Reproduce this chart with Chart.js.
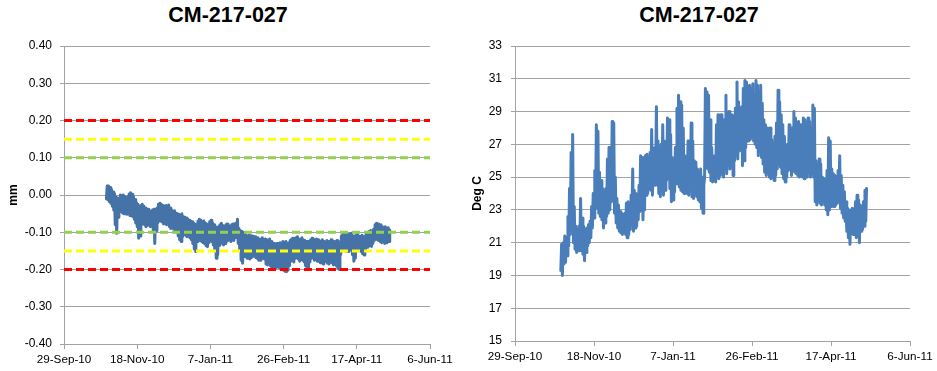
<!DOCTYPE html>
<html>
<head>
<meta charset="utf-8">
<script src="https://cdn.jsdelivr.net/npm/chart.js@4.4.0/dist/chart.umd.min.js"></script>
<style>
  html, body { margin: 0; padding: 0; background: #fff; }
  body { width: 937px; height: 371px; position: relative; overflow: hidden; }
  .title { position: absolute; top: 3px; height: 25px; line-height: 25px; text-align: center;
           font: bold 21.5px "Liberation Sans", Arial, sans-serif; color: #000; }
  .panel { position: absolute; top: 0; height: 371px; }
</style>
</head>
<body>
<div class="title" style="left:0;width:456px">CM-217-027</div>
<div class="title" style="left:467px;width:464px">CM-217-027</div>
<div class="panel" style="left:0;width:460px"><canvas id="disp" width="460" height="371"></canvas></div>
<div class="panel" style="left:467px;width:470px"><canvas id="temp" width="470" height="371"></canvas></div>

<script>
// Day 0 = 29-Sep-10; one tick every 50 days
const tickDays = [0, 50, 100, 150, 200, 250];
const xTickLabels = ['29-Sep-10', '18-Nov-10', '7-Jan-11', '26-Feb-11', '17-Apr-11', '6-Jun-11'];

// Readings start on day 29 (28-Oct-10), one daily high and low per day
const firstDay = 29;

// Crack meter displacement (mm): daily high / low
const dispHigh = [
  0.024, 0.024, 0.020, 0.015, 0.008, 0.004, -0.005, -0.008, -0.010, 0.000,
  -0.002, 0.000, -0.004, -0.008, -0.005, 0.003, 0.006, 0.002, -0.005, -0.012,
  -0.020, -0.025, -0.030, -0.028, -0.025, -0.030, -0.035, -0.040, -0.038, -0.042,
  -0.045, -0.040, -0.038, -0.045, -0.035, -0.025, -0.022, -0.025, -0.028, -0.030,
  -0.028, -0.030, -0.027, -0.035, -0.040, -0.045, -0.042, -0.048, -0.050, -0.052,
  -0.055, -0.050, -0.058, -0.060, -0.062, -0.065, -0.068, -0.070, -0.072, -0.075,
  -0.080, -0.078, -0.070, -0.065, -0.068, -0.072, -0.070, -0.075, -0.078, -0.080,
  -0.072, -0.068, -0.075, -0.080, -0.085, -0.088, -0.085, -0.080, -0.076, -0.082,
  -0.085, -0.080, -0.078, -0.082, -0.085, -0.080, -0.078, -0.085, -0.075, -0.065,
  -0.090, -0.095, -0.098, -0.100, -0.105, -0.108, -0.110, -0.108, -0.112, -0.110,
  -0.115, -0.112, -0.118, -0.115, -0.120, -0.118, -0.115, -0.120, -0.118, -0.120,
  -0.122, -0.118, -0.125, -0.128, -0.130, -0.134, -0.130, -0.130, -0.128, -0.130,
  -0.125, -0.128, -0.125, -0.130, -0.128, -0.122, -0.118, -0.116, -0.120, -0.115,
  -0.112, -0.118, -0.120, -0.115, -0.120, -0.122, -0.125, -0.124, -0.125, -0.120,
  -0.116, -0.118, -0.122, -0.118, -0.120, -0.122, -0.125, -0.120, -0.124, -0.128,
  -0.122, -0.125, -0.126, -0.120, -0.122, -0.125, -0.128, -0.122, -0.125, -0.128,
  -0.110, -0.105, -0.103, -0.106, -0.104, -0.107, -0.105, -0.103, -0.110, -0.112,
  -0.108, -0.105, -0.110, -0.112, -0.108, -0.114, -0.110, -0.105, -0.100, -0.098,
  -0.095, -0.100, -0.092, -0.080, -0.076, -0.078, -0.082, -0.080, -0.085, -0.088,
  -0.085, -0.090, -0.088, -0.094
];
const dispLow = [
  -0.010, -0.013, -0.018, -0.022, -0.030, -0.040, -0.080, -0.103, -0.060, -0.040,
  -0.045, -0.048, -0.050, -0.048, -0.052, -0.050, -0.055, -0.056, -0.058, -0.065,
  -0.075, -0.085, -0.116, -0.110, -0.080, -0.075, -0.080, -0.085, -0.082, -0.080,
  -0.085, -0.082, -0.100, -0.130, -0.095, -0.075, -0.070, -0.068, -0.072, -0.078,
  -0.075, -0.080, -0.078, -0.085, -0.090, -0.088, -0.092, -0.094, -0.100, -0.110,
  -0.120, -0.125, -0.112, -0.105, -0.108, -0.112, -0.110, -0.115, -0.120, -0.130,
  -0.145, -0.152, -0.125, -0.118, -0.122, -0.125, -0.128, -0.130, -0.136, -0.139,
  -0.128, -0.120, -0.125, -0.134, -0.150, -0.170, -0.160, -0.135, -0.130, -0.128,
  -0.134, -0.130, -0.125, -0.122, -0.120, -0.125, -0.118, -0.122, -0.115, -0.110,
  -0.130, -0.145, -0.175, -0.183, -0.165, -0.160, -0.170, -0.165, -0.172, -0.168,
  -0.165, -0.160, -0.168, -0.170, -0.175, -0.175, -0.165, -0.170, -0.172, -0.185,
  -0.188, -0.180, -0.190, -0.195, -0.198, -0.200, -0.195, -0.192, -0.195, -0.198,
  -0.200, -0.202, -0.205, -0.206, -0.202, -0.190, -0.178, -0.175, -0.180, -0.170,
  -0.165, -0.172, -0.178, -0.168, -0.175, -0.180, -0.190, -0.195, -0.200, -0.180,
  -0.170, -0.168, -0.175, -0.172, -0.178, -0.178, -0.182, -0.175, -0.185, -0.180,
  -0.176, -0.183, -0.185, -0.178, -0.182, -0.188, -0.185, -0.190, -0.195, -0.200,
  -0.160, -0.148, -0.142, -0.150, -0.145, -0.152, -0.148, -0.140, -0.160, -0.178,
  -0.170, -0.150, -0.145, -0.148, -0.152, -0.158, -0.161, -0.145, -0.140, -0.138,
  -0.135, -0.138, -0.130, -0.122, -0.118, -0.120, -0.122, -0.125, -0.128, -0.125,
  -0.130, -0.128, -0.126, -0.125
];

// Alarm thresholds (mm), drawn as +/- pairs
const redLimits = [0.20, -0.20];
const yellowLimits = [0.15, -0.15];
const greenLimits = [0.10, -0.10];

// Temperature (Deg C): daily high / low
const tempHigh = [
  20.9, 21.0, 21.4, 21.3, 22.6, 24.3, 26.5, 27.6, 23.2, 22.0,
  21.8, 22.0, 23.7, 22.5, 22.0, 21.8, 21.9, 22.1, 22.3, 23.2,
  24.0, 25.4, 28.2, 27.8, 25.3, 24.8, 24.3, 24.1, 24.3, 26.1,
  26.8, 25.5, 28.4, 28.3, 25.0, 23.7, 23.3, 22.9, 22.8, 22.7,
  22.8, 23.4, 23.5, 23.1, 23.9, 25.5, 24.2, 24.0, 23.6, 24.5,
  26.3, 26.2, 25.8, 26.3, 26.4, 26.1, 26.5, 27.9, 26.3, 26.8,
  29.3, 27.2, 26.4, 27.0, 28.2, 27.2, 26.5, 28.6, 28.5, 27.6,
  26.2, 25.5, 26.8, 29.2, 30.0, 29.6, 29.4, 28.0, 26.3, 25.8,
  27.2, 26.5, 28.3, 27.2, 26.0, 25.9, 25.5, 25.3, 25.5, 25.0,
  24.5, 30.4, 30.2, 30.0, 28.5, 26.8, 26.3, 26.0, 28.2, 28.8,
  28.3, 28.8, 27.8, 28.5, 30.0, 28.7, 29.0, 28.6, 28.8, 28.0,
  29.2, 30.8, 29.6, 28.9, 29.3, 30.4, 30.9, 30.8, 30.5, 30.6,
  30.4, 30.7, 29.8, 30.9, 30.6, 30.2, 30.6, 29.5, 28.5, 28.2,
  28.0, 27.8, 28.0, 27.3, 27.0, 27.5, 28.3, 30.3, 29.6, 28.8,
  28.2, 27.5, 26.8, 27.0, 28.2, 27.5, 28.0, 29.0, 28.6, 28.3,
  28.4, 28.2, 28.0, 28.6, 28.5, 28.3, 28.6, 28.4, 28.0, 29.4,
  29.2, 26.0, 25.3, 26.1, 25.8, 25.0, 24.9, 24.8, 25.4, 27.4,
  27.2, 25.5, 25.2, 25.1, 25.0, 25.4, 26.3, 25.1, 24.5, 24.1,
  23.5, 23.1, 23.0, 22.9, 23.1, 22.9, 23.5, 23.9, 23.6, 23.3,
  23.1, 23.5, 24.2, 24.3
];
const tempLow = [
  19.3, 19.0, 19.7, 19.8, 20.2, 20.8, 21.5, 22.2, 21.0, 20.6,
  20.4, 20.5, 20.7, 20.5, 20.3, 19.9, 20.4, 20.8, 21.0, 21.3,
  21.9, 22.5, 23.2, 23.1, 22.8, 22.6, 22.4, 21.9, 22.2, 22.6,
  22.8, 23.0, 23.5, 23.6, 22.8, 22.2, 21.9, 21.7, 21.6, 21.5,
  21.7, 21.5, 21.3, 21.5, 21.8, 22.4, 21.7, 21.9, 22.0, 22.4,
  22.9, 23.2, 22.4, 23.0, 23.9, 24.0, 24.3, 24.2, 23.9, 24.5,
  24.8, 24.5, 24.0, 23.8, 24.2, 23.9, 24.2, 24.8, 24.9, 24.3,
  23.5, 23.6, 24.1, 24.6, 24.7, 24.4, 24.2, 24.1, 24.0, 24.2,
  24.0, 23.9, 24.4, 23.8, 23.7, 24.0, 23.8, 23.6, 23.5, 23.1,
  22.8, 25.0, 25.7, 25.5, 25.3, 24.8, 24.7, 24.8, 24.7, 25.0,
  24.9, 25.1, 25.3, 25.0, 25.6, 25.2, 25.8, 25.5, 25.7, 25.1,
  26.0, 26.4, 26.1, 26.6, 26.8, 25.7, 26.0, 26.8, 27.2, 27.2,
  27.3, 27.5, 27.2, 27.0, 26.8, 26.3, 26.6, 26.2, 25.8, 25.3,
  25.1, 25.3, 25.0, 24.9, 25.0, 24.8, 25.1, 25.5, 25.8, 25.6,
  25.2, 24.9, 24.7, 25.0, 25.4, 25.5, 25.1, 25.4, 25.3, 25.2,
  25.1, 25.0, 25.1, 25.0, 24.9, 25.2, 25.0, 25.3, 25.0, 25.2,
  25.0, 23.5, 23.3, 23.6, 23.4, 23.3, 23.6, 23.3, 23.0, 22.7,
  23.0, 23.2, 23.3, 23.2, 23.3, 23.4, 23.5, 23.1, 22.8, 22.5,
  22.3, 21.7, 21.3, 20.9, 21.6, 21.5, 21.6, 21.3, 21.4, 21.0,
  21.7, 21.8, 22.0, 22.3
];

// Each day: low reading at midnight, high reading at noon
function dailySwing(highs, lows) {
  const pts = [];
  highs.forEach((h, i) => {
    pts.push({ x: firstDay + i, y: lows[i] });
    pts.push({ x: firstDay + i + 0.5, y: h });
  });
  return pts;
}

function limitLine(level, color) {
  return {
    data: [{ x: tickDays[0], y: level }, { x: tickDays[tickDays.length - 1], y: level }],
    borderColor: color, borderWidth: 3, borderDash: [8, 4], borderCapStyle: 'butt',
    pointRadius: 0, order: 0
  };
}

const FONT = '"Liberation Sans", Arial, sans-serif';
const GRID = '#a3a3a3';

function xAxis(height) {
  return {
    type: 'linear', min: tickDays[0], max: tickDays[tickDays.length - 1],
    afterFit: s => { s.height = height; },
    afterBuildTicks: s => { s.ticks = tickDays.map(v => ({ value: v })); },
    ticks: {
      callback: (v, i) => xTickLabels[i], autoSkip: false, maxRotation: 0,
      color: '#000', padding: 4, font: { family: FONT, size: 11.7 }
    },
    grid: { drawOnChartArea: false, drawTicks: true, tickLength: 5, color: GRID },
    border: { display: true, color: GRID }
  };
}

function baseOptions(padRight, scales) {
  return {
    responsive: false, animation: false, devicePixelRatio: 1,
    layout: { padding: { top: 46, right: padRight, bottom: 0, left: 0 } },
    plugins: { legend: { display: false }, tooltip: { enabled: false }, title: { display: false } },
    scales
  };
}

// Displacement panel
new Chart(document.getElementById('disp'), {
  type: 'line',
  data: {
    datasets: [
      limitLine(greenLimits[0], '#92d050'), limitLine(greenLimits[1], '#92d050'),
      limitLine(yellowLimits[0], '#ffff00'), limitLine(yellowLimits[1], '#ffff00'),
      limitLine(redLimits[0], '#ff0000'), limitLine(redLimits[1], '#ff0000'),
      {
        data: dailySwing(dispHigh, dispLow), borderColor: '#4573a8', borderWidth: 3,
        borderJoinStyle: 'round', borderCapStyle: 'round', pointRadius: 0, tension: 0, order: 1
      }
    ]
  },
  options: baseOptions(30, {
    x: xAxis(27),
    y: {
      min: -0.4, max: 0.4,
      afterFit: s => { s.width = 64; },
      ticks: {
        stepSize: 0.1, color: '#000', padding: 8, font: { family: FONT, size: 12 },
        callback: v => (Math.abs(v) < 1e-9 ? 0 : v).toFixed(2)
      },
      grid: { color: GRID, tickLength: 4 },
      border: { color: GRID },
      title: { display: true, text: 'mm', color: '#000', padding: { top: 6, bottom: 0 },
               font: { family: FONT, size: 12, weight: 'bold' } }
    }
  })
});

// Temperature panel
new Chart(document.getElementById('temp'), {
  type: 'line',
  data: {
    datasets: [{
      data: dailySwing(tempHigh, tempLow), borderColor: '#4a7ebb', borderWidth: 3,
      borderJoinStyle: 'round', borderCapStyle: 'round', pointRadius: 0, tension: 0
    }]
  },
  options: baseOptions(27, {
    x: xAxis(30),
    y: {
      min: 15, max: 33,
      afterFit: s => { s.width = 48; },
      ticks: { stepSize: 2, color: '#000', padding: 9, font: { family: FONT, size: 12 } },
      grid: { color: GRID, tickLength: 4 },
      border: { color: GRID },
      title: { display: true, text: 'Deg C', color: '#000', padding: { top: 3, bottom: 0 },
               font: { family: FONT, size: 12, weight: 'bold' } }
    }
  })
});
</script>
</body>
</html>
